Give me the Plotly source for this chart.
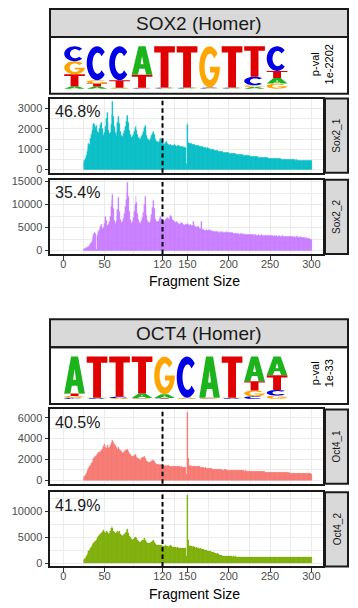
import numpy as np
import plotly.graph_objects as go

W, H = 358, 608

# ---------------- data ----------------
fragment_sizes = list(range(25, 301))

sox2_rep1 = [
    350, 450, 520, 700, 900, 1100, 1300, 1250, 1500, 1700,
    1900, 2100, 2250, 2200, 2050, 2150, 1850, 1650, 1800, 2000,
    2200, 2300, 2000, 1750, 1650, 1800, 2100, 2500, 2800, 2300,
    1900, 1750, 1800, 2200, 2700, 3330, 2600, 2100, 1800, 1650,
    1900, 2300, 2600, 2250, 1850, 1650, 1550, 1600, 1750, 1900,
    2100, 2350, 2600, 2650, 2300, 1900, 1700, 1600, 1550, 1600,
    1700, 1850, 2050, 2150, 1900, 1700, 1550, 1500, 1480, 1550,
    1600, 1700, 1850, 2050, 2150, 1900, 1650, 1500, 1450, 1420,
    1480, 1550, 1650, 1750, 1850, 1700, 1550, 1450, 1400, 1380,
    1350, 1400, 1450, 1500, 1450, 1350, 1300, 1250, 1300, 1350,
    1380, 1300, 1250, 1200, 1220, 1250, 1200, 1180, 1200, 1220,
    1200, 1180, 1150, 1170, 1200, 1180, 1150, 1130, 1150, 1120,
    1100, 1120, 1100, 1080, 300, 2200, 1350, 1300, 1280, 1270,
    1260, 1250, 1240, 1250, 1220, 1200, 1190, 1200, 1170, 1160,
    1150, 1140, 1120, 1130, 1100, 1090, 1080, 1070, 1050, 1060,
    1030, 1020, 1010, 1000, 990, 995, 970, 960, 950, 940,
    930, 920, 925, 900, 890, 880, 870, 865, 860, 850,
    845, 840, 830, 835, 820, 810, 800, 795, 790, 785,
    780, 770, 765, 760, 755, 750, 740, 745, 730, 725,
    720, 715, 710, 700, 695, 690, 685, 690, 675, 670,
    665, 660, 655, 650, 660, 640, 635, 630, 625, 620,
    615, 610, 605, 600, 605, 590, 585, 580, 578, 575,
    575, 565, 570, 555, 560, 550, 555, 545, 540, 548,
    535, 540, 525, 530, 520, 528, 515, 510, 518, 505,
    500, 508, 495, 500, 490, 495, 485, 490, 480, 486,
    475, 480, 470, 476, 465, 470, 460, 466, 455, 460,
    452, 448, 455, 445, 440, 446, 436, 440, 432, 438,
    428, 432, 424, 420, 425, 415,
]

sox2_rep2 = [
    350, 400, 450, 550, 650, 800, 950, 1100, 1400, 1700,
    2200, 2800, 3400, 3800, 3600, 200, 3200, 3600, 4200, 4500,
    5200, 5700, 4800, 4500, 5000, 5800, 7400, 6500, 5400, 5200,
    5600, 6300, 7400, 9500, 11000, 12200, 9000, 6500, 5800, 6200,
    7600, 8800, 11500, 8500, 6800, 6000, 5800, 6200, 7000, 8000,
    9500, 11000, 12500, 14650, 11800, 8500, 6800, 6000, 5900, 6300,
    7200, 8500, 10000, 12000, 10500, 8000, 6600, 6000, 5800, 6000,
    6500, 7200, 8200, 10000, 11700, 9500, 7600, 6500, 6100, 6000,
    6300, 6900, 7800, 9200, 10750, 9000, 7400, 6600, 6300, 6200,
    6300, 6700, 7100, 7400, 7000, 6600, 6400, 6300, 6500, 6800,
    7000, 7200, 7000, 6800, 7300, 7600, 7400, 6800, 6400, 6200,
    6100, 6000, 6200, 6100, 5900, 5800, 5700, 5900, 6000, 5800,
    5700, 5600, 5500, 5700, 5600, 5900, 5600, 5500, 5400, 5600,
    5500, 5300, 6300, 5200, 5300, 5100, 5000, 5200, 5100, 4900,
    4800, 4700, 6200, 4600, 4500, 4600, 4400, 4350, 4500, 4300,
    4400, 4350, 4450, 4300, 4250, 4200, 4300, 4150, 4100, 4150,
    4050, 4000, 4100, 3950, 3900, 4000, 3950, 3900, 4000, 3900,
    3950, 3900, 4000, 3850, 3900, 3850, 3900, 3800, 3850, 3750,
    3800, 3700, 3750, 3650, 3700, 3600, 3650, 3700, 3550, 3600,
    3650, 3550, 3500, 3600, 3550, 3450, 3500, 3550, 3400, 3500,
    3450, 3400, 3500, 3350, 3400, 3350, 3300, 3400, 3450, 3300,
    3300, 3350, 3250, 3200, 3300, 3350, 3250, 3200, 3250, 3300,
    3200, 3150, 3250, 3200, 3150, 3100, 3200, 3250, 3150, 3100,
    3150, 3200, 3100, 3150, 3050, 3100, 3150, 3100, 3050, 3100,
    3150, 3050, 3000, 3100, 3050, 3000, 3050, 3100, 3000, 2950,
    3050, 3000, 2950, 2900, 3000, 2950, 2900, 2950, 3000, 2900,
    2850, 2900, 2950, 2800, 2750, 2800, 2700, 2750, 2650, 2700,
    2600, 2650, 2550, 2500, 2450, 2400,
]

oct4_rep1 = [
    200, 350, 500, 700, 850, 1000, 1150, 1300, 1450, 1600,
    1750, 1900, 2050, 2200, 2250, 2350, 2450, 2550, 2650, 2700,
    2800, 2900, 2950, 3050, 3250, 3480, 3200, 3100, 3350, 3150,
    3050, 3170, 3300, 3500, 3700, 3850, 3600, 3400, 3300, 3200,
    3050, 2950, 3150, 3000, 2850, 2750, 2650, 2600, 2650, 2750,
    2850, 2900, 3000, 2950, 2750, 2550, 2450, 2350, 2300, 2250,
    2300, 2400, 2450, 2350, 2200, 2100, 2050, 2000, 1950, 2000,
    2050, 2150, 2200, 2250, 2100, 1950, 1850, 1800, 1750, 1700,
    1750, 1800, 1850, 1900, 1930, 1800, 1650, 1600, 1550, 1500,
    1480, 1450, 1500, 1480, 1420, 1400, 1380, 1350, 1400, 1380,
    1350, 1400, 1380, 1350, 1330, 1360, 1340, 1320, 1350, 1330,
    1300, 1320, 1340, 1300, 1310, 1290, 1300, 1280, 1300, 1270,
    1280, 1260, 1270, 1250, 530, 6470, 2080, 1400, 1350, 1380,
    1340, 1360, 1330, 1350, 1320, 1340, 1300, 1320, 1330, 1290,
    1300, 1280, 1250, 1260, 1240, 1200, 1180, 1190, 1160, 1150,
    1140, 1130, 1120, 1110, 1100, 1090, 1080, 1070, 1060, 1050,
    1050, 1040, 1030, 1020, 1010, 1000, 1010, 990, 980, 990,
    1000, 1010, 990, 1000, 980, 990, 970, 980, 960, 970,
    950, 960, 940, 950, 930, 940, 920, 930, 920, 910,
    910, 920, 900, 910, 890, 900, 880, 890, 880, 870,
    880, 870, 880, 860, 870, 850, 860, 850, 840, 850,
    840, 830, 840, 820, 830, 820, 810, 820, 810, 800,
    800, 790, 800, 790, 780, 790, 780, 770, 780, 770,
    760, 770, 760, 750, 760, 750, 740, 750, 740, 730,
    740, 730, 720, 730, 720, 710, 720, 710, 700, 710,
    700, 690, 700, 690, 680, 690, 680, 670, 680, 670,
    660, 670, 660, 650, 660, 650, 640, 650, 640, 630,
    640, 630, 620, 630, 620, 610,
]

oct4_rep2 = [
    630, 800, 1000, 1300, 1600, 1900, 2200, 2500, 2800, 3100,
    3400, 3700, 3900, 4100, 4300, 4450, 4700, 4900, 5100, 5300,
    5500, 5700, 5900, 6100, 6400, 6000, 5800, 6100, 6000, 5700,
    5600, 5800, 6200, 6700, 7050, 6700, 6200, 5900, 5700, 5800,
    6000, 6200, 5900, 6100, 5600, 5400, 5200, 5100, 5300, 5500,
    5700, 6000, 6300, 6500, 5800, 5200, 4900, 4700, 4600, 4500,
    4600, 4800, 4900, 5050, 4700, 4400, 4200, 4100, 4000, 4050,
    4200, 4400, 4500, 4750, 4500, 4200, 4000, 3900, 3800, 3750,
    3800, 3950, 4100, 4300, 4430, 4100, 3800, 3600, 3500, 3450,
    3400, 3350, 3450, 3500, 3400, 3300, 3200, 3150, 3250, 3350,
    3300, 3200, 3150, 3200, 3300, 3400, 3250, 3100, 3050, 3000,
    3050, 3000, 2950, 3000, 2950, 2900, 2950, 2900, 2850, 2900,
    2850, 2800, 2850, 2800, 1270, 13000, 4400, 3500, 3300, 3250,
    3250, 3150, 3200, 3050, 3100, 2950, 3000, 2900, 2950, 2800,
    2750, 2800, 2650, 2700, 2550, 2600, 2450, 2500, 2400, 2350,
    2300, 2350, 2200, 2250, 2100, 2150, 2000, 2050, 1900, 1950,
    1800, 1850, 1700, 1750, 1600, 1550, 1500, 1450, 1400, 1380,
    1350, 1300, 1320, 1280, 1290, 1260, 1270, 1250, 1260, 1240,
    1230, 1250, 1220, 1240, 1210, 1230, 1200, 1220, 1210, 1190,
    1200, 1220, 1190, 1210, 1180, 1200, 1190, 1170, 1190, 1180,
    1170, 1190, 1160, 1180, 1170, 1150, 1170, 1160, 1180, 1150,
    1160, 1140, 1170, 1150, 1160, 1140, 1150, 1130, 1160, 1140,
    1150, 1130, 1140, 1160, 1130, 1140, 1120, 1150, 1130, 1140,
    1120, 1140, 1130, 1110, 1140, 1120, 1130, 1110, 1120, 1130,
    1110, 1130, 1100, 1120, 1110, 1130, 1100, 1120, 1110, 1090,
    1110, 1100, 1120, 1090, 1110, 1100, 1080, 1100, 1110, 1090,
    1080, 1100, 1090, 1070, 1100, 1080, 1090, 1070, 1090, 1080,
    1070, 1090, 1080, 1060, 1080, 1070,
]

panel_names = ["Sox2_1", "Sox2_2", "Oct4_1", "Oct4_2"]
panel_pcts = ["46.8%", "35.4%", "40.5%", "41.9%"]
panel_series = [sox2_rep1, sox2_rep2, oct4_rep1, oct4_rep2]
panel_colors = ["#00BFC4", "#C77CFF", "#F8766D", "#7CAE00"]

x_tick_vals = [0, 50, 120, 150, 200, 250, 300]
x_tick_text = ["0", "50", "120", "150", "200", "250", "300"]
x_minor_vals = [25, 85, 135, 175, 225, 275]
nucleosome_cut = 120

y_tick_vals = [[0, 1000, 2000, 3000], [0, 5000, 10000, 15000],
               [0, 2000, 4000, 6000], [0, 5000, 10000]]
y_minor_vals = [[500, 1500, 2500], [2500, 7500, 12500],
                [1000, 3000, 5000], [2500, 7500, 12500]]

bases = ["A", "C", "G", "T"]
# per-position probabilities (A, C, G, T)
sox2_motif = [
    [0.06, 0.35, 0.31, 0.28],
    [0.05, 0.80, 0.08, 0.07],
    [0.01, 0.80, 0.01, 0.18],
    [0.67, 0.01, 0.01, 0.31],
    [0.01, 0.01, 0.01, 0.97],
    [0.01, 0.01, 0.01, 0.97],
    [0.01, 0.01, 0.97, 0.01],
    [0.01, 0.01, 0.01, 0.97],
    [0.04, 0.20, 0.04, 0.72],
    [0.13, 0.58, 0.12, 0.17],
]
oct4_motif = [
    [0.87, 0.03, 0.04, 0.06],
    [0.01, 0.01, 0.01, 0.97],
    [0.01, 0.03, 0.01, 0.95],
    [0.11, 0.01, 0.01, 0.87],
    [0.09, 0.01, 0.89, 0.01],
    [0.01, 0.97, 0.01, 0.01],
    [0.97, 0.01, 0.01, 0.01],
    [0.01, 0.01, 0.01, 0.97],
    [0.58, 0.06, 0.14, 0.22],
    [0.44, 0.13, 0.08, 0.35],
]
motif_titles = ["SOX2 (Homer)", "OCT4 (Homer)"]
motif_pvals = ["1e-2202", "1e-33"]
base_colors = {"A": "#1DB31D", "C": "#0000E6", "G": "#FFA500", "T": "#E00000"}

# ---------------- layout geometry (pixels) ----------------
FONT = "Liberation Sans, Arial, Helvetica, sans-serif"
PX_L, PX_R = 50, 323          # histogram panel left/right
STRIP_L, STRIP_R = 325, 348   # facet strip
panel_tops = [95.5, 177.5, 409.5, 493.0]
panel_bots = [170.5, 252.5, 484.5, 568.0]
title_tops = [5.0, 318.3]
title_bots = [33.3, 346.7]
logo_bots = [90.7, 404.0]
pval_y = [61, 373]
xlabel_y = [280, 596]


def fx(v):
    return v / W


def fy(v):
    return 1 - v / H


def arc(cx, cy, rx, ry, a0, a1, n=30):
    t = np.radians(np.linspace(a0, a1, n))
    return list(zip(cx + rx * np.cos(t), cy + ry * np.sin(t)))


g_inner_y = 0.5 + 0.32 * np.sin(np.radians(-25))
GLYPHS = {
    "T": [[(0, 1), (1, 1), (1, 0.85), (0.69, 0.85), (0.69, 0), (0.31, 0),
           (0.31, 0.85), (0, 0.85)]],
    "A": [[(0, 0), (0.33, 1), (0.67, 1), (1, 0), (0.70, 0), (0.63, 0.21),
           (0.37, 0.21), (0.30, 0)],
          [(0.43, 0.37), (0.57, 0.37), (0.5, 0.66)]],
    "C": [arc(0.5, 0.5, 0.5, 0.5, 42, 318) + arc(0.53, 0.5, 0.25, 0.31, 318, 42)],
    "G": [arc(0.5, 0.5, 0.5, 0.5, 40, 360) + [(0.52, 0.5), (0.52, g_inner_y)]
          + arc(0.52, 0.5, 0.26, 0.32, -25, -320)],
}


def glyph_path(letter, x0, y0, w, h):
    parts = []
    for poly in GLYPHS[letter]:
        pts = ["%.4f,%.4f" % (x0 + gx * w, y0 + gy * h) for gx, gy in poly]
        parts.append("M " + " L ".join(pts) + " Z")
    return " ".join(parts)


def note(text, x, y, size, color, xanchor="center", yanchor="middle", angle=0):
    return dict(text=text, xref="paper", yref="paper", x=fx(x), y=fy(y),
                xanchor=xanchor, yanchor=yanchor, textangle=angle,
                showarrow=False, font=dict(size=size, color=color, family=FONT))


fig = go.Figure()
shapes = []
annotations = []
layout = {}

axis_ids = ["", "2", "3", "4"]
for k in range(4):
    sid = axis_ids[k]
    vals = panel_series[k]
    col = panel_colors[k]
    bottom = k in (1, 3)
    M = max(vals)
    fig.add_trace(go.Bar(
        x=fragment_sizes, y=vals, width=1,
        marker=dict(color=col, line=dict(width=0.3, color=col)),
        xaxis="x" + sid, yaxis="y" + sid, showlegend=False, hoverinfo="skip"))
    layout["xaxis" + sid] = dict(
        domain=[fx(PX_L), fx(PX_R)], range=[-16, 314], anchor="y" + sid,
        tickmode="array", tickvals=x_tick_vals, ticktext=x_tick_text,
        showticklabels=bottom, ticks="outside" if bottom else "",
        ticklen=3.5, tickwidth=1.1, tickcolor="#333333", ticklabelstandoff=-5,
        tickfont=dict(size=11, color="#4d4d4d", family=FONT),
        showgrid=True, gridcolor="#ebebeb", gridwidth=1.4,
        minor=dict(tickmode="array", tickvals=x_minor_vals, showgrid=True,
                   gridcolor="#ebebeb", gridwidth=0.8, ticks=""),
        showline=True, mirror=True, linecolor="#1a1a1a", linewidth=2,
        zeroline=False, fixedrange=True)
    layout["yaxis" + sid] = dict(
        domain=[fy(panel_bots[k]), fy(panel_tops[k])],
        range=[-0.05 * M, 1.05 * M], anchor="x" + sid,
        tickmode="array", tickvals=y_tick_vals[k],
        ticktext=[str(v) for v in y_tick_vals[k]],
        ticks="outside", ticklen=3.5, tickwidth=1.1, tickcolor="#333333",
        tickfont=dict(size=11, color="#4d4d4d", family=FONT),
        showgrid=True, gridcolor="#ebebeb", gridwidth=1.4,
        minor=dict(tickmode="array", tickvals=y_minor_vals[k], showgrid=True,
                   gridcolor="#ebebeb", gridwidth=0.8, ticks=""),
        showline=True, mirror=True, linecolor="#1a1a1a", linewidth=2,
        zeroline=False, fixedrange=True)
    shapes.append(dict(type="line", xref="x" + sid, yref="y" + sid + " domain",
                       x0=nucleosome_cut, x1=nucleosome_cut, y0=0, y1=1,
                       line=dict(color="black", width=2, dash="4.5px,3px")))
    shapes.append(dict(type="rect", xref="paper", yref="paper",
                       x0=fx(STRIP_L), x1=fx(STRIP_R),
                       y0=fy(panel_bots[k]), y1=fy(panel_tops[k]),
                       fillcolor="#d9d9d9", line=dict(color="#1a1a1a", width=2)))
    annotations.append(note(panel_names[k], (STRIP_L + STRIP_R) / 2 + 0.5,
                            (panel_tops[k] + panel_bots[k]) / 2, 10, "#1a1a1a", angle=-90))
    annotations.append(note(panel_pcts[k], 52.5, panel_tops[k] + 2.5, 16, "#1a1a1a",
                            xanchor="left", yanchor="top"))

motifs = [sox2_motif, oct4_motif]
for m in range(2):
    xa = "xaxis" + str(5 + m)
    ya = "yaxis" + str(5 + m)
    xr = "x" + str(5 + m)
    yr = "y" + str(5 + m)
    shapes.append(dict(type="rect", xref="paper", yref="paper",
                       x0=fx(PX_L), x1=fx(STRIP_R), y0=fy(title_bots[m]), y1=fy(title_tops[m]),
                       fillcolor="#d9d9d9", line=dict(color="#1a1a1a", width=2)))
    shapes.append(dict(type="rect", xref="paper", yref="paper",
                       x0=fx(PX_L), x1=fx(STRIP_R), y0=fy(logo_bots[m]), y1=fy(title_bots[m]),
                       fillcolor="rgba(0,0,0,0)", line=dict(color="#1a1a1a", width=2)))
    annotations.append(note(motif_titles[m], (PX_L + STRIP_R) / 2,
                            (title_tops[m] + title_bots[m]) / 2 + 0.5, 19, "#1a1a1a"))
    annotations.append(note("p-val<br>" + motif_pvals[m], 322, pval_y[m], 11, "black", angle=-90))
    annotations.append(note("Fragment Size", 195, xlabel_y[m], 14, "black"))
    slot = 22.5
    first = 63.3
    layout[xa] = dict(domain=[fx(PX_L), fx(STRIP_R)],
                      range=[0.5 + (PX_L - first) / slot, 0.5 + (STRIP_R - first) / slot],
                      visible=False, anchor=yr, fixedrange=True)
    layout[ya] = dict(domain=[fy(logo_bots[m]), fy(title_bots[m])],
                      range=[-0.121, 1.22], visible=False, anchor=xr, fixedrange=True)
    for i, probs in enumerate(motifs[m]):
        pos = i + 1
        order = sorted(range(4), key=lambda j: probs[j])
        ybase = 0.0
        for j in order:
            hgt = probs[j]
            letter = bases[j]
            shapes.append(dict(type="path", xref=xr, yref=yr,
                               path=glyph_path(letter, pos - 0.46, ybase, 0.92, hgt),
                               fillcolor=base_colors[letter], fillrule="evenodd",
                               line=dict(width=0)))
            ybase += hgt

fig.update_layout(
    width=W, height=H, margin=dict(l=0, r=0, t=0, b=0),
    paper_bgcolor="white", plot_bgcolor="white",
    font=dict(family=FONT), bargap=0,
    shapes=shapes, annotations=annotations, showlegend=False,
    **layout)

fig.write_html("out.html")
